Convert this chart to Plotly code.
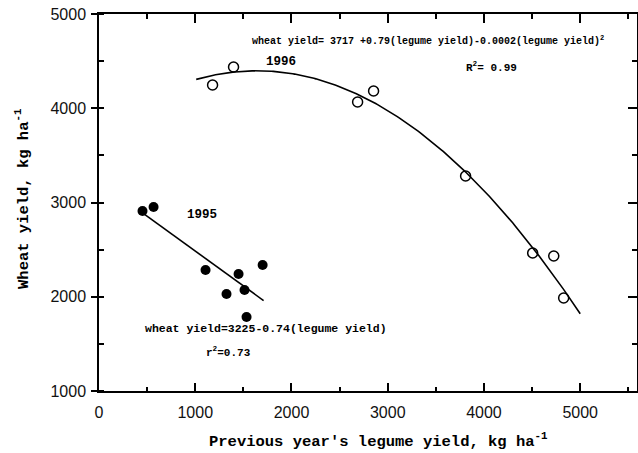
import numpy as np
import plotly.graph_objects as go

# ---- data ----
legume_1995 = [452, 567, 1107, 1325, 1450, 1512, 1533, 1700]
wheat_1995 = [2910, 2952, 2284, 2029, 2241, 2072, 1785, 2337]

legume_1996 = [1180, 1398, 2687, 2853, 3809, 4506, 4725, 4828]
wheat_1996 = [4247, 4438, 4066, 4183, 3281, 2464, 2432, 1987]

# regression lines (as drawn)
lin_intercept, lin_slope = 3225, -0.74
lin_xrange = [452, 1710]
quad_c0, quad_c1, quad_c2 = 3782, 0.75, -0.0002285
quad_xrange = [1010, 5000]

x_ticks = [0, 1000, 2000, 3000, 4000, 5000]
y_ticks = [1000, 2000, 3000, 4000, 5000]

xl = np.linspace(lin_xrange[0], lin_xrange[1], 2)
yl = lin_intercept + lin_slope * xl
xq = np.linspace(quad_xrange[0], quad_xrange[1], 200)
yq = quad_c0 + quad_c1 * xq + quad_c2 * xq ** 2

fig = go.Figure()
fig.add_trace(go.Scatter(x=xl, y=yl, mode="lines", line=dict(color="black", width=1.6),
                         showlegend=False, hoverinfo="skip"))
fig.add_trace(go.Scatter(x=xq, y=yq, mode="lines", line=dict(color="black", width=1.6),
                         showlegend=False, hoverinfo="skip"))
fig.add_trace(go.Scatter(x=legume_1995, y=wheat_1995, mode="markers",
                         marker=dict(symbol="circle", size=10, color="black"),
                         showlegend=False, name="1995"))
fig.add_trace(go.Scatter(x=legume_1996, y=wheat_1996, mode="markers",
                         marker=dict(symbol="circle-open", size=10, color="black",
                                     line=dict(width=1.5, color="black")),
                         showlegend=False, name="1996"))
# empty trace to activate the mirrored axes
fig.add_trace(go.Scatter(x=[None], y=[None], xaxis="x2", yaxis="y2",
                         mode="markers", showlegend=False, hoverinfo="skip"))

XR = [0, 5590]
YR = [1000, 5000]
tickfont = dict(family="Liberation Sans", size=16, color="#111")

fig.update_layout(
    width=638, height=453,
    margin=dict(l=99, r=1, t=14, b=62),
    paper_bgcolor="white", plot_bgcolor="white",
    xaxis=dict(range=XR, tickvals=x_ticks, ticktext=[str(v) for v in x_ticks],
               ticks="inside", ticklen=8, tickwidth=1.5, tickcolor="black",
               minor=dict(dtick=500, tick0=0, ticks="inside", ticklen=4, tickwidth=1.5,
                          tickcolor="black", showgrid=False),
               showline=True, linecolor="black", linewidth=1.5,
               showgrid=False, zeroline=False, tickfont=tickfont, ticklabelstandoff=6),
    yaxis=dict(range=YR, tickvals=y_ticks, ticktext=[str(v) for v in y_ticks],
               ticks="outside", ticklen=6, tickwidth=1.5, tickcolor="black",
               minor=dict(dtick=500, tick0=0, ticks="inside", ticklen=5, tickwidth=1.5,
                          tickcolor="black", showgrid=False),
               showline=True, linecolor="black", linewidth=1.5,
               showgrid=False, zeroline=False, tickfont=tickfont, ticklabelstandoff=2),
    xaxis2=dict(range=XR, overlaying="x", side="top", anchor="y",
                tickvals=x_ticks, showticklabels=False,
                ticks="inside", ticklen=9, tickwidth=1.5, tickcolor="black",
                minor=dict(dtick=500, tick0=0, ticks="inside", ticklen=5, tickwidth=1.5,
                           tickcolor="black", showgrid=False),
                showline=True, linecolor="black", linewidth=1.5,
                showgrid=False, zeroline=False),
    yaxis2=dict(range=YR, overlaying="y", side="right", anchor="x",
                tickvals=y_ticks, showticklabels=False,
                ticks="inside", ticklen=9, tickwidth=1.5, tickcolor="black",
                minor=dict(dtick=500, tick0=0, ticks="inside", ticklen=5, tickwidth=1.5,
                           tickcolor="black", showgrid=False),
                showline=True, linecolor="black", linewidth=1.5,
                showgrid=False, zeroline=False),
)

mono = "Liberation Mono"
ann = [
    dict(x=0.519, y=-0.1326, xref="paper", yref="paper",
         text="Previous year's legume yield, kg ha<sup>-1</sup>",
         font=dict(family=mono, size=15.5, color="black", weight="bold"),
         xanchor="center", yanchor="middle"),
    dict(x=-0.1413, y=0.512, xref="paper", yref="paper", textangle=-90,
         text="Wheat yield, kg ha<sup>-1</sup>",
         font=dict(family=mono, size=15.5, color="black", weight="bold"),
         xanchor="center", yanchor="middle"),
    dict(x=1564, y=4724, xref="x", yref="y",
         text="wheat yield= 3717 +0.79(legume yield)-0.0002(legume yield)<sup>2</sup>",
         font=dict(family=mono, size=10, color="black", weight="bold"),
         xanchor="left", yanchor="middle"),
    dict(x=1896, y=4491, xref="x", yref="y", text="1996",
         font=dict(family=mono, size=12.5, color="black", weight="bold"),
         xanchor="center", yanchor="middle"),
    dict(x=3792, y=4438, xref="x", yref="y", text="R<sup>2</sup>= 0.99",
         font=dict(family=mono, size=11, color="black", weight="bold"),
         xanchor="left", yanchor="middle"),
    dict(x=1065, y=2867, xref="x", yref="y", text="1995",
         font=dict(family=mono, size=12.5, color="black", weight="bold"),
         xanchor="center", yanchor="middle"),
    dict(x=452, y=1658, xref="x", yref="y",
         text="wheat yield=3225-0.74(legume yield)",
         font=dict(family=mono, size=11.5, color="black", weight="bold"),
         xanchor="left", yanchor="middle"),
    dict(x=1096, y=1414, xref="x", yref="y", text="r<sup>2</sup>=0.73",
         font=dict(family=mono, size=11, color="black", weight="bold"),
         xanchor="left", yanchor="middle"),
]
for a in ann:
    a["showarrow"] = False
fig.update_layout(annotations=ann)

fig.write_html("out.html")
